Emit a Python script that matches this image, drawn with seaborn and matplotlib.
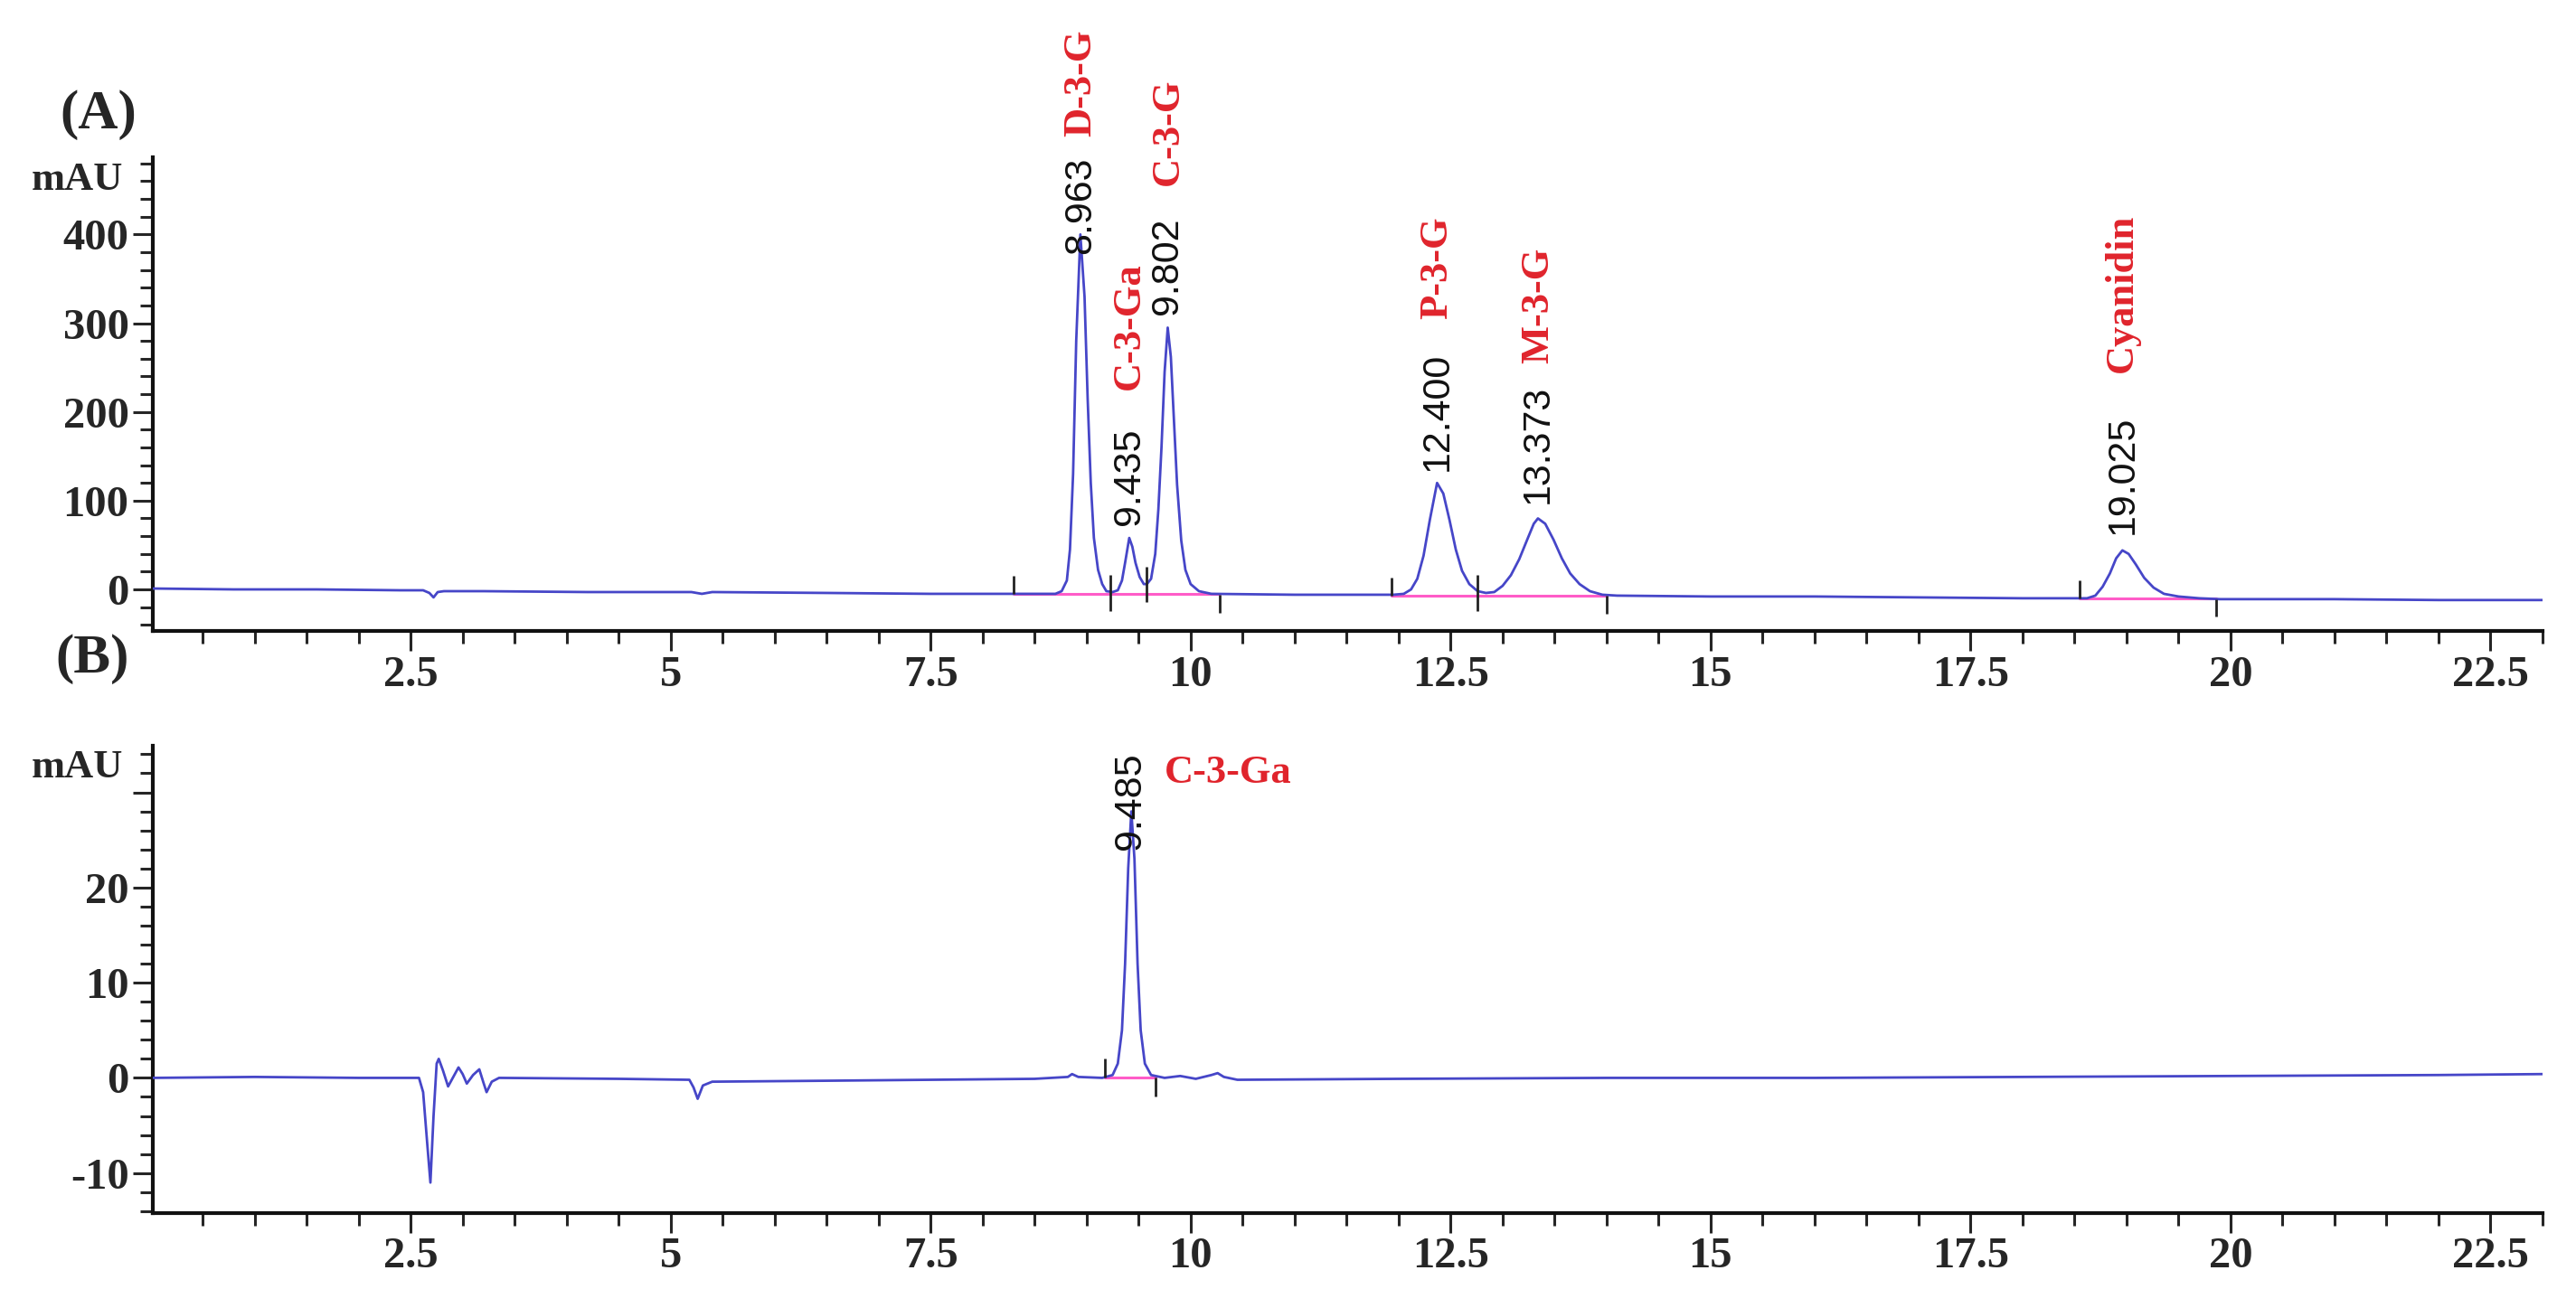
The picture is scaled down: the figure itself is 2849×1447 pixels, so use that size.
import matplotlib
matplotlib.use("Agg")
import pandas as pd
import seaborn as sns
import matplotlib.pyplot as plt
from matplotlib.ticker import MultipleLocator, FuncFormatter

# ---- chromatogram (A): time (min) / signal (mAU) ----
time_a = [0.02, 0.8, 1.6, 2.4, 2.62, 2.68, 2.72, 2.76, 2.82, 2.9, 3.2, 4.2, 5.2, 5.3, 5.4, 6.5, 7.5, 8.3,
          8.70, 8.76, 8.81, 8.84, 8.87, 8.90, 8.94, 8.98, 9.01, 9.04, 9.07, 9.11, 9.15, 9.19, 9.25,
          9.30, 9.34, 9.37, 9.41, 9.44, 9.47, 9.51, 9.55, 9.58,
          9.62, 9.66, 9.69, 9.72, 9.75, 9.78, 9.81, 9.84, 9.87, 9.91, 9.95, 10.0, 10.08, 10.2,
          11.0, 11.95,
          12.05, 12.12, 12.18, 12.24, 12.30, 12.37, 12.43, 12.49, 12.55, 12.61, 12.68, 12.76, 12.84,
          12.92, 13.00, 13.08, 13.16, 13.24, 13.30, 13.34, 13.41, 13.49, 13.57, 13.65, 13.74, 13.84,
          13.96, 14.1, 15.0, 16.0, 17.0, 18.0, 18.55,
          18.62, 18.70, 18.77, 18.84, 18.90, 18.96, 19.02, 19.09, 19.17, 19.26, 19.36, 19.5, 19.7, 19.9,
          21.0, 22.0, 23.0]
signal_a = [1, 0, 0, -1, -1, -4, -9, -3, -2, -2, -2, -3, -3, -5, -3, -4, -5, -5,
            -5, -2, 10, 45, 130, 280, 400, 330, 215, 120, 58, 22, 6, -2, -3,
            -1, 10, 30, 58, 48, 30, 14, 6, 6,
            12, 40, 90, 160, 245, 295, 262, 190, 118, 55, 22, 6, -2, -5,
            -6, -6,
            -5, 0, 12, 38, 78, 120, 108, 78, 45, 21, 6, -2, -4,
            -3, 4, 16, 34, 57, 74, 80, 74, 56, 35, 18, 6, -2,
            -6, -7, -8, -8, -9, -10, -10,
            -10, -7, 3, 18, 35, 44, 40, 28, 13, 2, -5, -8, -10, -11,
            -11, -12, -12]

# peak table (A)
rt_a = [8.94, 9.41, 9.78, 12.37, 13.34, 18.96]
rt_text_a = ["8.963", "9.435", "9.802", "12.400", "13.373", "19.025"]
names_a = ["D-3-G", "C-3-Ga", "C-3-G", "P-3-G", "M-3-G", "Cyanidin"]
rt_label_y_a = [378, 72, 310, 133, 97, 62]
name_label_y_a = [510, 225, 455, 305, 255, 245]

# integration baselines / markers (A)
seg_start_a = [8.30, 11.93, 18.55]
seg_end_a = [10.28, 14.00, 19.86]
seg_level_a = [-5, -7, -10]
mark_t_a = [8.30, 9.23, 9.58, 10.28, 11.93, 12.76, 14.00, 18.55, 19.86]
mark_y_a = [-5, -4, 6, -6, -7, -4, -7, -10, -11]
mark_kind_a = ["up", "both", "both", "down", "up", "both", "down", "up", "down"]

# ---- chromatogram (B) ----
time_b = [0.02, 1.0, 2.0, 2.58, 2.62, 2.66, 2.69, 2.72, 2.75, 2.77, 2.81, 2.86, 2.92, 2.96, 3.0,
          3.04, 3.10, 3.16, 3.20, 3.23, 3.28, 3.35, 4.5, 5.18, 5.22, 5.26, 5.31, 5.4, 6.5, 7.5,
          8.5, 8.82, 8.86, 8.92, 9.15, 9.25, 9.30, 9.34, 9.37, 9.40, 9.43, 9.46, 9.49, 9.52,
          9.56, 9.62, 9.75, 9.9, 10.05, 10.2, 10.26, 10.32, 10.45, 12.0, 14.0, 16.0, 18.0,
          20.0, 22.0, 23.0]
signal_b = [0, 0.1, 0, 0, -1.5, -7, -11, -4, 1.5, 2.0, 0.8, -0.9, 0.3, 1.1, 0.4,
            -0.6, 0.3, 0.9, -0.5, -1.5, -0.4, 0, -0.1, -0.2, -1.0, -2.2, -0.8, -0.4, -0.3, -0.2,
            -0.1, 0.1, 0.4, 0.1, 0, 0.3, 1.5, 5, 12, 22, 28, 23, 12, 5,
            1.5, 0.3, 0, 0.2, -0.1, 0.3, 0.5, 0.1, -0.2, -0.1, 0, 0, 0.1,
            0.2, 0.3, 0.4]

rt_b = [9.42]
rt_text_b = ["9.485"]
names_b = ["C-3-Ga"]
seg_start_b = [9.18]
seg_end_b = [9.66]
seg_level_b = [0]
mark_t_b = [9.18, 9.66]
mark_y_b = [0, 0]
mark_kind_b = ["up", "down"]

trace_color = "#4646c8"
red = "#e0242c"

sns.set_style("ticks")
plt.rcParams["font.family"] = ["Liberation Serif", "DejaVu Serif"]
plt.rcParams["font.weight"] = "bold"
plt.rcParams["axes.unicode_minus"] = False

fig = plt.figure(figsize=(28.49, 14.47), dpi=100)
axA = fig.add_axes([0.0593, 0.5175, 0.9277, 0.3623])
axB = fig.add_axes([0.0593, 0.0726, 0.9277, 0.3573])


def draw_panel(ax, t, s, starts, ends, levels, mt, my, mk, mark_len, ylim, ymaj, ymin_step, hide=()):
    df = pd.DataFrame({"t": t, "s": s})
    for a, b, lv in zip(starts, ends, levels):
        ax.plot([a, b], [lv, lv], color="#ff3fbf", lw=2.2, alpha=0.85, zorder=2)
    sns.lineplot(data=df, x="t", y="s", ax=ax, color=trace_color, lw=2.0,
                 sort=False, estimator=None, zorder=3)
    for x, y, k in zip(mt, my, mk):
        lo = y if k == "up" else y - mark_len
        hi = y if k == "down" else y + mark_len
        ax.vlines(x, lo, hi, color="#222222", lw=2.0, zorder=4)

    ax.set_xlim(0.02, 23.0)
    ax.set_ylim(*ylim)
    ax.set_xlabel("")
    ax.set_ylabel("")
    ax.xaxis.set_major_locator(MultipleLocator(2.5))
    ax.xaxis.set_minor_locator(MultipleLocator(0.5))
    ax.yaxis.set_major_locator(MultipleLocator(ymaj))
    ax.yaxis.set_minor_locator(MultipleLocator(ymin_step))
    ax.xaxis.set_major_formatter(FuncFormatter(lambda v, p: "%g" % v))
    ax.yaxis.set_major_formatter(FuncFormatter(lambda v, p: "" if round(v) in hide else "%d" % round(v)))
    ax.tick_params(which="major", direction="out", length=16, width=2.2, labelsize=35, pad=3)
    ax.tick_params(which="minor", direction="out", length=10, width=2.2)
    sns.despine(ax=ax)
    for sp in ("left", "bottom"):
        ax.spines[sp].set_linewidth(3)
        ax.spines[sp].set_color("#111111")
    for lab in ax.get_xticklabels() + ax.get_yticklabels():
        lab.set_fontweight("bold")


draw_panel(axA, time_a, signal_a, seg_start_a, seg_end_a, seg_level_a,
           mark_t_a, mark_y_a, mark_kind_a, 20, (-47, 487), 100, 20)
draw_panel(axB, time_b, signal_b, seg_start_b, seg_end_b, seg_level_b,
           mark_t_b, mark_y_b, mark_kind_b, 2.0, (-14.2, 34.9), 10, 2, hide=(30,))

# peak annotations (A)
for x, txt, ty, nm, ny in zip(rt_a, rt_text_a, rt_label_y_a, names_a, name_label_y_a):
    axA.text(x, ty, txt, rotation=90, ha="center", va="bottom", fontsize=31,
             family="Liberation Sans", fontweight="normal", color="#111111", clip_on=False, zorder=5)
    axA.text(x, ny, nm, rotation=90, ha="center", va="bottom", fontsize=32,
             fontweight="bold", color=red, clip_on=False, zorder=5)

# peak annotations (B)
for x, txt, nm in zip(rt_b, rt_text_b, names_b):
    axB.text(x, 24, txt, rotation=90, ha="center", va="bottom", fontsize=31,
             family="Liberation Sans", fontweight="normal", color="#111111", clip_on=False, zorder=5)
    axB.text(x + 0.33, 32, nm, ha="left", va="center", fontsize=32,
             fontweight="bold", color=red, clip_on=False, zorder=5)

fig.text(0.0477, 0.8625, "mAU", ha="right", va="center", fontsize=32, fontweight="bold")
fig.text(0.0477, 0.4133, "mAU", ha="right", va="center", fontsize=32, fontweight="bold")
fig.text(0.0383, 0.912, "(A)", ha="center", va="center", fontsize=44, fontweight="bold")
fig.text(0.0358, 0.496, "(B)", ha="center", va="center", fontsize=44, fontweight="bold")

fig.savefig("out.png", dpi=100)
